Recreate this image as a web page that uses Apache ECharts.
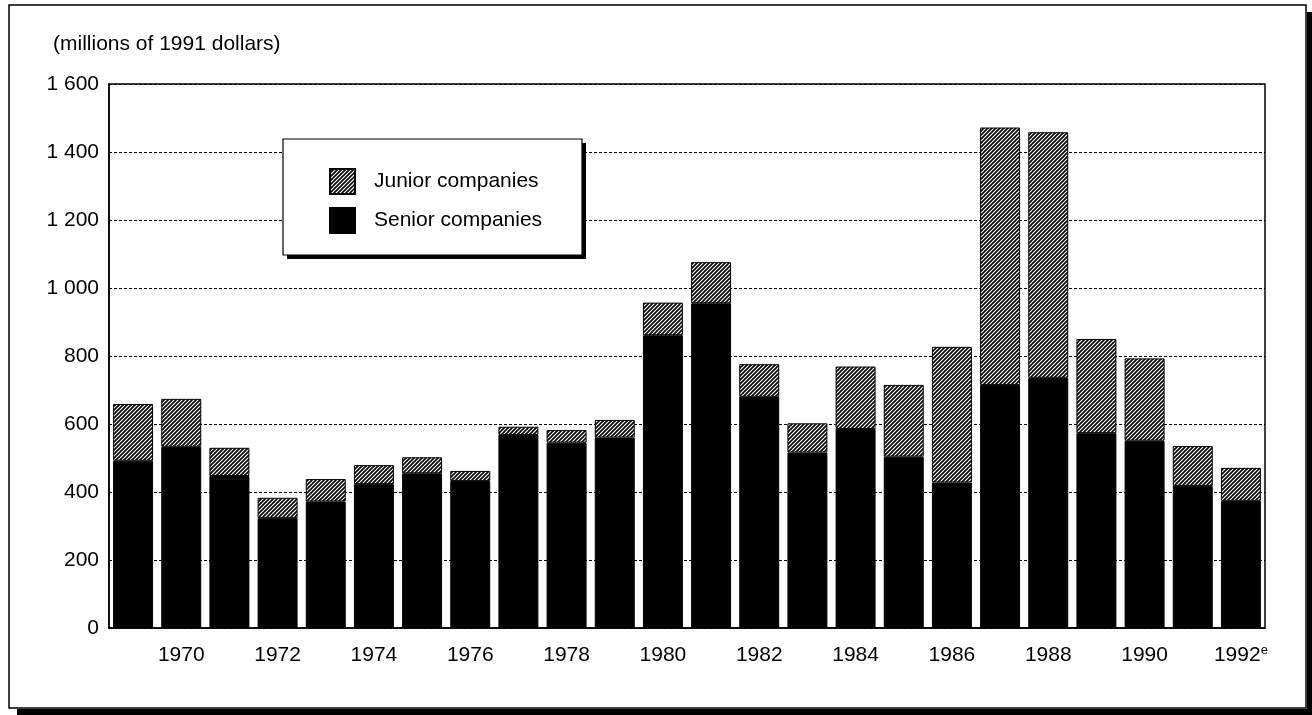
<!DOCTYPE html>
<html>
<head>
<meta charset="utf-8">
<script src="https://cdn.jsdelivr.net/npm/echarts@6/dist/echarts.min.js"></script>
<style>
  html, body { margin: 0; padding: 0; background: #fff; }
  #chart { width: 1312px; height: 715px; }
</style>
</head>
<body>
<div id="chart"></div>
<script>
const years = ['1969', '1970', '1971', '1972', '1973', '1974', '1975', '1976', '1977', '1978', '1979', '1980',
  '1981', '1982', '1983', '1984', '1985', '1986', '1987', '1988', '1989', '1990', '1991', '1992'];
const estimated = ['1992'];
const senior = [492, 533, 447, 323, 372, 423, 455, 432, 568, 545, 560, 861,
  955, 680, 516, 585, 504, 428, 715, 736, 573, 551, 418, 374];
const junior = [167, 141, 83, 60, 66, 56, 47, 30, 24, 37, 52, 96,
  121, 96, 86, 184, 211, 399, 757, 722, 277, 242, 117, 97];
const yTicks = { min: 0, max: 1600, step: 200 };

// diagonal hatch for the junior bars
function hatch() {
  const c = document.createElement('canvas');
  c.width = 4;
  c.height = 4;
  const ctx = c.getContext('2d');
  ctx.fillStyle = '#fff';
  ctx.fillRect(0, 0, 4, 4);
  ctx.strokeStyle = '#000';
  ctx.lineWidth = 1.6;
  ctx.beginPath();
  ctx.moveTo(-1, 5); ctx.lineTo(5, -1);
  ctx.moveTo(-1, 1); ctx.lineTo(1, -1);
  ctx.moveTo(3, 5); ctx.lineTo(5, 3);
  ctx.stroke();
  return { image: c, repeat: 'repeat' };
}

const font = 'Liberation Sans, Arial, Helvetica, sans-serif';
const fs = 21;
var myChart = echarts.init(document.getElementById('chart'));
var option = {
  backgroundColor: '#fff',
  animation: false,
  textStyle: { fontFamily: font, color: '#000' },
  title: {
    text: '(millions of 1991 dollars)',
    left: 48,
    top: 29,
    textStyle: { fontFamily: font, fontSize: fs, fontWeight: 'normal', color: '#000' }
  },
  legend: {
    orient: 'vertical',
    left: 329,
    top: 168,
    padding: 0,
    itemWidth: 25,
    itemHeight: 25,
    itemGap: 12,
    icon: 'rect',
    selectedMode: false,
    z: 10,
    data: ['Junior companies', 'Senior companies'],
    textStyle: { fontFamily: font, fontSize: fs, color: '#000', padding: [0, 0, 0, 14] }
  },
  grid: {
    left: 109,
    right: 47,
    top: 84,
    bottom: 87,
    show: true,
    borderColor: '#000',
    borderWidth: 1.5,
    backgroundColor: 'transparent'
  },
  xAxis: {
    type: 'category',
    data: years,
    axisLine: { lineStyle: { color: '#000', width: 1.5 } },
    axisTick: { show: false },
    axisLabel: {
      interval: function (index) { return index % 2 === 1; },
      fontFamily: font,
      fontSize: fs,
      color: '#000',
      margin: 16,
      formatter: function (value) {
        return estimated.indexOf(value) >= 0 ? '{y|' + value + '}{e|e}' : '{y|' + value + '}';
      },
      rich: {
        y: { fontFamily: font, fontSize: fs, color: '#000', lineHeight: 22 },
        e: { fontFamily: font, fontSize: 13, color: '#000', lineHeight: 13, verticalAlign: 'top' }
      }
    }
  },
  yAxis: {
    type: 'value',
    min: yTicks.min,
    max: yTicks.max,
    interval: yTicks.step,
    axisLine: { show: true, lineStyle: { color: '#000', width: 1.5 } },
    axisTick: { show: false },
    axisLabel: {
      fontFamily: font,
      fontSize: fs,
      color: '#000',
      margin: 10,
      formatter: function (v) {
        return v >= 1000 ? Math.floor(v / 1000) + ' ' + String(v % 1000).padStart(3, '0') : String(v);
      }
    },
    splitLine: { lineStyle: { color: '#000', width: 1, type: [3, 2] } }
  },
  series: [
    {
      name: 'Senior companies',
      type: 'bar',
      stack: 'total',
      barCategoryGap: '17%',
      itemStyle: { color: '#000', borderColor: '#000', borderWidth: 1 },
      data: senior
    },
    {
      name: 'Junior companies',
      type: 'bar',
      stack: 'total',
      barCategoryGap: '17%',
      itemStyle: { color: hatch(), borderColor: '#000', borderWidth: 1 },
      data: junior
    }
  ],
  graphic: [
    // outer frame and its shadow
    { type: 'rect', z: 1, shape: { x: 9, y: 5, width: 1297, height: 703 }, style: { fill: null, stroke: '#000', lineWidth: 1.5 } },
    { type: 'rect', z: 1, shape: { x: 1307, y: 12, width: 6, height: 704 }, style: { fill: '#000' } },
    { type: 'rect', z: 1, shape: { x: 17, y: 709, width: 1296, height: 7 }, style: { fill: '#000' } },
    // legend box
    { type: 'rect', z: 8, shape: { x: 287, y: 143, width: 299, height: 116 }, style: { fill: '#000' } },
    { type: 'rect', z: 9, shape: { x: 283, y: 139, width: 299, height: 116 }, style: { fill: '#fff', stroke: '#000', lineWidth: 1.2 } }
  ]
};
option && myChart.setOption(option);
</script>
</body>
</html>
